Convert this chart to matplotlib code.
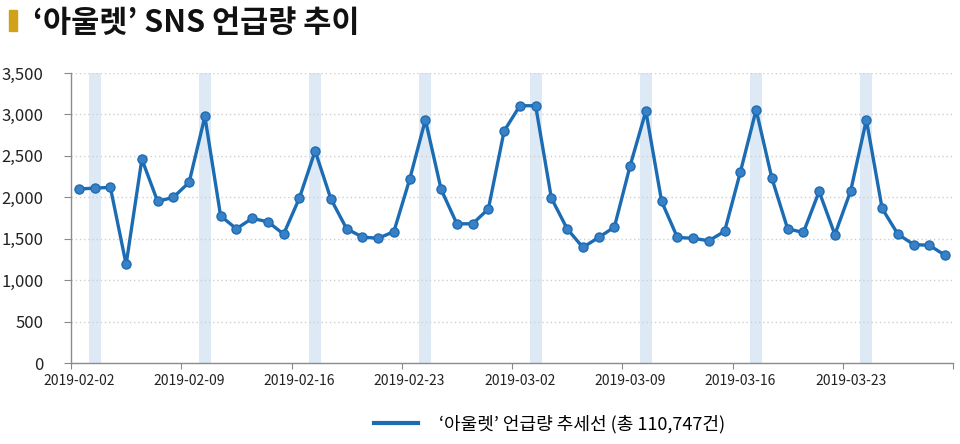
import matplotlib
matplotlib.use("Agg")
import matplotlib.pyplot as plt
import numpy as np
import pandas as pd

plt.rcParams['font.family'] = ['Noto Sans CJK KR', 'DejaVu Sans']

title = "‘아울렛’ SNS 언급량 추이"
legend_label = "‘아울렛’ 언급량 추세선 (총 110,747건)"
start_date = "2019-02-02"
values = [2100, 2110, 2120, 1190, 2460, 1950, 2000, 2180,
          2975, 1775, 1620, 1745, 1705, 1555, 1990, 2560,
          1980, 1620, 1520, 1505, 1585, 2215, 2935, 2095,
          1680, 1680, 1860, 2800, 3105, 3105, 1990, 1620,
          1395, 1515, 1640, 2380, 3040, 1950, 1515, 1505,
          1475, 1590, 2305, 3055, 2230, 1620, 1575, 2070,
          1550, 2075, 2935, 1865, 1555, 1430, 1420, 1300]
dates = pd.date_range(start_date, periods=len(values), freq="D")
y_ticks = [0, 500, 1000, 1500, 2000, 2500, 3000, 3500]

line_color = "#1B6CB3"
band_color = "#DEE9F6"

fig = plt.figure(figsize=(9.6, 4.44), dpi=100)
ax = fig.add_axes([71/960, 1-363/444, (953-71)/960, (363-73)/444])

x = np.arange(len(values))
for i, d in enumerate(dates):
    if d.weekday() == 6:
        ax.axvspan(i - 0.38, i + 0.38, color=band_color, lw=0, zorder=0)

ax.plot(x, values, color=line_color, lw=2.4, marker='o', ms=6.5,
        mfc="#3A80C6", mec=line_color, mew=1.0, zorder=3, label=legend_label)

ax.set_xlim(-0.5, len(values) - 0.5)
ax.set_ylim(0, 3500)
ax.set_yticks(y_ticks)
ax.set_yticklabels([f"{v:,}" for v in y_ticks], fontsize=12, color="#222222")
ax.grid(axis='y', color="#CFCFCF", ls=(0, (1, 2)), lw=1.0)
ax.set_axisbelow(True)

major = np.arange(-0.5, len(values), 7)
ax.set_xticks(major)
ax.set_xticklabels([])
minor = np.arange(0, len(values), 7)
ax.set_xticks(minor, minor=True)
ax.set_xticklabels([dates[i].strftime("%Y-%m-%d") for i in minor], minor=True,
                   fontsize=10, color="#222222")
ax.tick_params(axis='x', which='minor', length=0, pad=8)
ax.tick_params(axis='x', which='major', length=4, color="#888888")
ax.tick_params(axis='y', length=5, color="#888888", pad=15)

for s in ['top', 'right']:
    ax.spines[s].set_visible(False)
for s in ['left', 'bottom']:
    ax.spines[s].set_color("#8C8C8C")
    ax.spines[s].set_linewidth(1.0)

fig.patches.append(plt.Rectangle((9/960, 1-31/444), 8/960, 21/444,
                                 transform=fig.transFigure, color="#CFA21A"))
fig.text(33/960, 1-32/444, title, fontsize=22, fontweight='bold',
         color="#111111", va='baseline', ha='left')

leg = fig.legend(loc='center', bbox_to_anchor=(550/960, 1-424/444), frameon=False,
                 fontsize=13, handlelength=2.4, handletextpad=1.2)
for h in leg.legend_handles:
    h.set_marker('')
    h.set_linewidth(3)

fig.savefig("out.png", dpi=100)
